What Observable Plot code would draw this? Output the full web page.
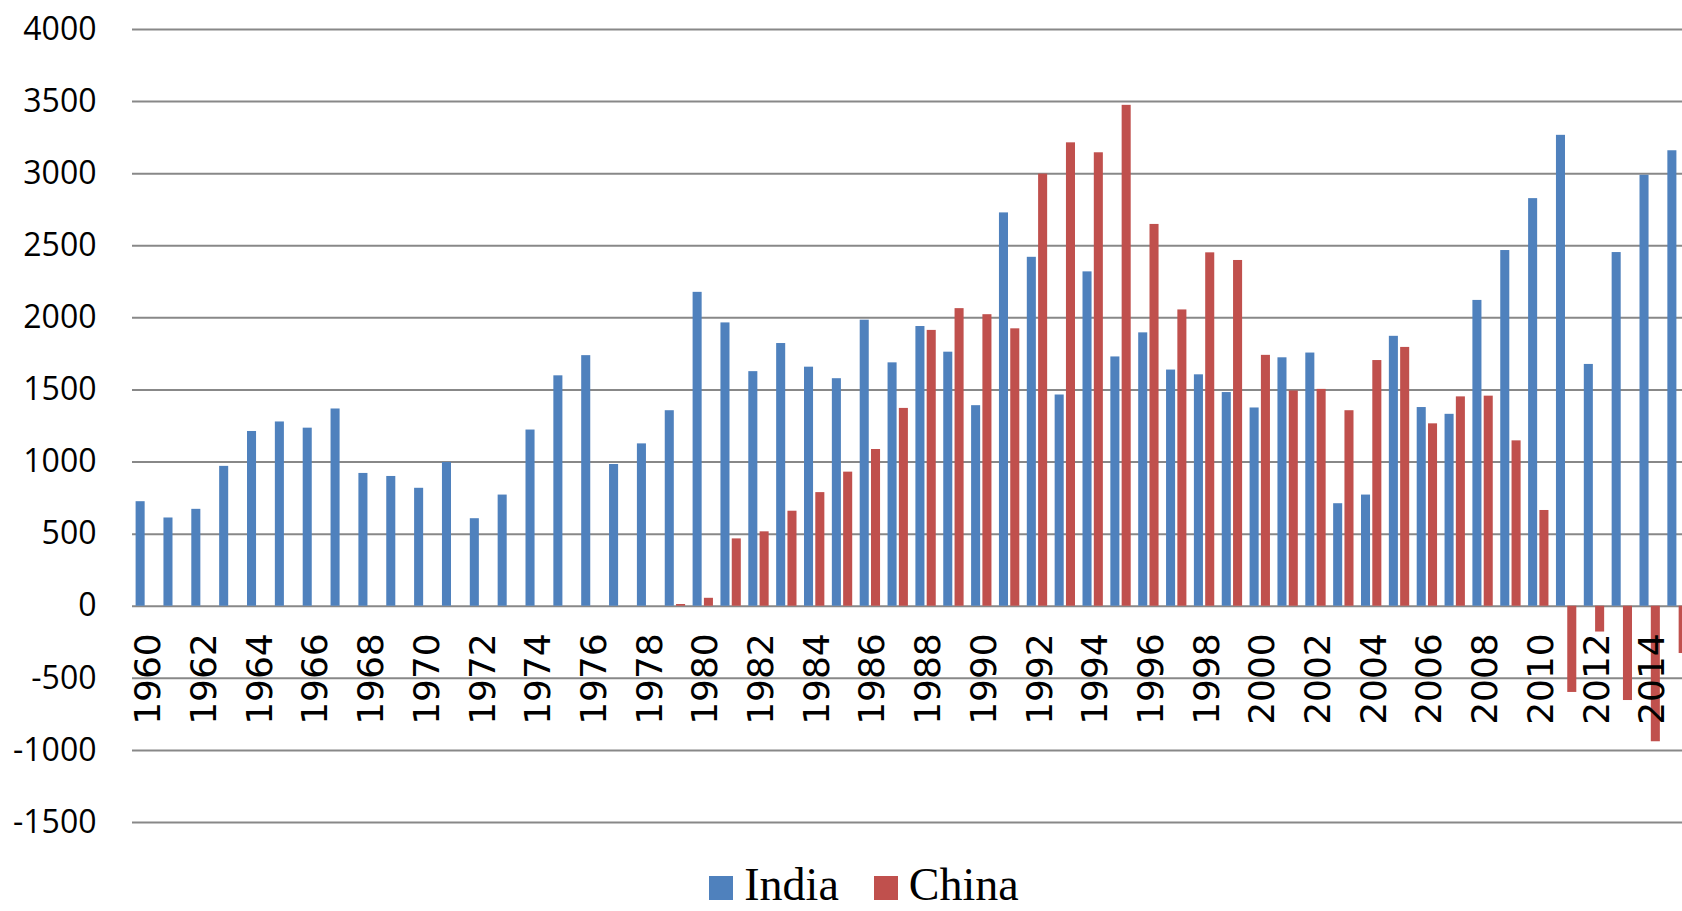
<!DOCTYPE html>
<html>
<head>
<meta charset="utf-8">
<script src="https://cdn.jsdelivr.net/npm/d3@7"></script>
<script src="https://cdn.jsdelivr.net/npm/@observablehq/plot@0.6"></script>
<style>
  html, body { margin: 0; padding: 0; background: #fff; overflow: hidden; }
  #chart { position: absolute; left: 0; top: 0; width: 1730px; height: 860px; }
  #chart svg { max-width: none !important; }
  #legend {
    position: absolute; left: 0; top: 865px; width: 1728px;
    display: flex; justify-content: center; align-items: baseline;
    font-family: "Liberation Serif", "Times New Roman", serif;
    font-size: 46px; line-height: 40px; color: #000;
  }
  #legend .item { display: inline-flex; align-items: baseline; }
  #legend .swatch { display: inline-block; width: 24px; height: 24px; margin-right: 11px; }
  #legend .item + .item { margin-left: 35px; }
</style>
</head>
<body>
<div id="chart"></div>
<div id="legend"></div>
<script>
// Years on the category axis
const years = [
  1960, 1961, 1962, 1963, 1964, 1965, 1966, 1967, 1968, 1969,
  1970, 1971, 1972, 1973, 1974, 1975, 1976, 1977, 1978, 1979,
  1980, 1981, 1982, 1983, 1984, 1985, 1986, 1987, 1988, 1989,
  1990, 1991, 1992, 1993, 1994, 1995, 1996, 1997, 1998, 1999,
  2000, 2001, 2002, 2003, 2004, 2005, 2006, 2007, 2008, 2009,
  2010, 2011, 2012, 2013, 2014, 2015
];

// India series
const india = [
  725, 612, 672, 970, 1212, 1278, 1235, 1368, 921, 900,
  818, 997, 607, 771, 1222, 1598, 1738, 983, 1126, 1356,
  2177, 1965, 1627, 1822, 1658, 1578, 1984, 1688, 1940, 1762,
  1391, 2728, 2420, 1465, 2319, 1729, 1896, 1638, 1605, 1482,
  1375, 1723, 1756, 711, 771, 1872, 1378, 1331, 2121, 2467,
  2827, 3266, 1677, 2453, 2989, 3159
];

// China series (no values before 1979)
const china = [
  null, null, null, null, null, null, null, null, null, null,
  null, null, null, null, null, null, null, null, null, 12,
  55, 467, 516, 659, 788, 930, 1087, 1372, 1913, 2064,
  2022, 1924, 2997, 3214, 3145, 3474, 2648, 2055, 2451, 2398,
  1740, 1493, 1504, 1356, 1704, 1795, 1265, 1452, 1457, 1147,
  664, -598, -179, -654, -940, -328
];

// Axis ticks
const yTicks = [-1500, -1000, -500, 0, 500, 1000, 1500, 2000, 2500, 3000, 3500, 4000];
const xLabelYears = years.filter((y) => y % 2 === 0);

const seriesNames = ["India", "China"];
const seriesColors = ["#4F81BD", "#C0504D"];

const rows = years.map((year, i) => ({year, india: india[i], china: china[i]}));
const indiaRows = rows.filter((d) => d.india != null);
const chinaRows = rows.filter((d) => d.china != null);

const chart = Plot.plot({
  width: 1730,
  height: 860,
  marginLeft: 132,
  marginRight: 38.4,
  marginTop: 29,
  marginBottom: 38,
  style: {background: "#fff", overflow: "visible", maxWidth: "none"},
  x: {domain: years, padding: 0, axis: null},
  y: {domain: [-1500, 4000], axis: null},
  marks: [
    Plot.ruleY(yTicks, {stroke: "#888888", strokeWidth: 2}),
    Plot.barY(indiaRows, {x: "year", y: "india", fill: seriesColors[0], insetLeft: 3.6, insetRight: 15.2}),
    Plot.barY(chinaRows, {x: "year", y: "china", fill: seriesColors[1], insetLeft: 14.9, insetRight: 3.9}),
    Plot.axisY(yTicks, {
      tickSize: 0, tickPadding: 36, label: null,
      tickFormat: (d) => String(d),
      fontSize: 32, fontFamily: "Open Sans", fill: "#000"
    }),
    Plot.text(xLabelYears, {
      x: (d) => d, y: () => 0, text: (d) => String(d),
      rotate: -90, textAnchor: "end", lineAnchor: "middle",
      dy: 27, dx: 2.4,
      fontSize: 36, fontFamily: "DejaVu Sans", fill: "#000"
    })
  ]
});
document.getElementById("chart").append(chart);

// Legend below the chart
const legend = d3.select("#legend");
seriesNames.forEach((name, i) => {
  const item = legend.append("span").attr("class", "item");
  item.append("span").attr("class", "swatch").style("background", seriesColors[i]);
  item.append("span").text(name);
});
</script>
</body>
</html>
